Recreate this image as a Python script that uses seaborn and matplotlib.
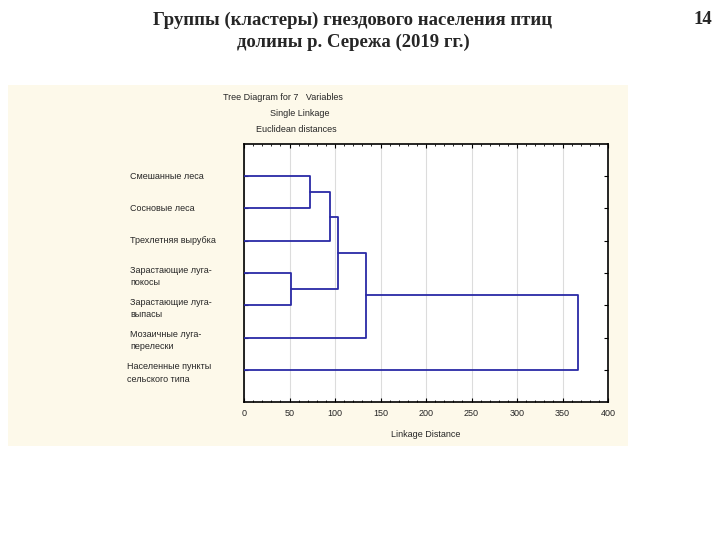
import matplotlib
matplotlib.use("Agg")
import matplotlib.pyplot as plt
import matplotlib.patches as mpatches
import matplotlib.transforms as mtransforms
from matplotlib.ticker import MultipleLocator
import numpy as np
import pandas as pd
import seaborn as sns

# ---- data ----
leaf_labels = [
    "Смешанные леса",
    "Сосновые леса",
    "Трехлетняя вырубка",
    "Зарастающие луга-\nпокосы",
    "Зарастающие луга-\nвыпасы",
    "Мозаичные луга-\nперелески",
    "Населенные пункты\nсельского типа",
]
# merges: (child_a, child_b, linkage distance); ids >= 7 refer to earlier merges
merge_a = [0, 3, 7, 9, 10, 11]
merge_b = [1, 4, 2, 8, 5, 6]
merge_h = [72.5, 52, 94.5, 103, 134, 367]
x_ticks = [0, 50, 100, 150, 200, 250, 300, 350, 400]

sns.set_theme(style="white")
plt.rcParams["font.family"] = ["Liberation Sans", "DejaVu Sans"]

fig = plt.figure(figsize=(7.2, 5.4), dpi=100)
fig.patch.set_facecolor("white")

# cream panel (background axes)
bg = fig.add_axes([8 / 720, 1 - 446 / 540, 620 / 720, 361 / 540], zorder=-5)
bg.set_facecolor("#fdf9ea")
bg.set_xticks([])
bg.set_yticks([])
for s in bg.spines.values():
    s.set_visible(False)

ax = fig.add_axes([244 / 720, 1 - 402 / 540, 364 / 720, 258 / 540], zorder=2)
ax.set_facecolor("white")

# build dendrogram segments
n = len(leaf_labels)
pos = {i: (0.0, float(i + 1)) for i in range(n)}
rows = []
for k, (a, b, h) in enumerate(zip(merge_a, merge_b, merge_h)):
    xa, ya = pos[a]
    xb, yb = pos[b]
    for (xx, yy) in [(xa, ya), (h, ya), (h, yb), (xb, yb)]:
        rows.append({"x": xx, "y": yy, "seg": k})
    pos[n + k] = (h, (ya + yb) / 2)
df = pd.DataFrame(rows)

sns.lineplot(data=df, x="x", y="y", units="seg", estimator=None, sort=False,
             color="#2a2aa6", linewidth=1.3, ax=ax, legend=False, zorder=3)

ax.set_xlim(0, 400)
ax.set_ylim(8, 0)
ax.set_xticks(x_ticks)
ax.set_xticklabels([str(t) for t in x_ticks], fontsize=6.5)
ax.xaxis.set_minor_locator(MultipleLocator(10))
ax.set_yticks(range(1, n + 1))
ax.set_yticklabels([])
ax.set_xlabel("Linkage Distance", fontsize=6.5, labelpad=9)
ax.set_ylabel("")
ax.grid(axis="x", color="#dcdcdc", linewidth=0.8)
ax.set_axisbelow(True)
for s in ax.spines.values():
    s.set_color("black")
    s.set_linewidth(1.2)
ax.tick_params(axis="both", which="both", direction="in", top=True, right=True,
               left=True, bottom=True, color="black")
ax.tick_params(axis="both", which="major", length=3, width=0.8, pad=5)
ax.tick_params(axis="x", which="minor", length=1.5, width=0.6)

# leaf labels
trans = mtransforms.blended_transform_factory(ax.transAxes, ax.transData)
for i, lab in enumerate(leaf_labels):
    multi = "\n" in lab
    xoff = -0.322 if i == n - 1 else -0.312
    ax.text(xoff, i + 1 + (0.1 if multi else 0), lab, transform=trans,
            ha="left", va="center", fontsize=6.5, linespacing=1.45)

# header texts
fig.text(283 / 720, 1 - 97 / 540, "Tree Diagram for 7   Variables", ha="center",
         va="center", fontsize=6.5)
fig.text(300 / 720, 1 - 113 / 540, "Single Linkage", ha="center", va="center",
         fontsize=6.5)
fig.text(296 / 720, 1 - 130 / 540, "Euclidean distances", ha="center",
         va="center", fontsize=6.5)

# slide title
fig.text(353 / 720, 1 - 20 / 540, "Группы (кластеры) гнездового населения птиц",
         ha="center", va="center", fontsize=13.5, fontweight="bold",
         family=["Liberation Serif", "DejaVu Serif"])
fig.text(353 / 720, 1 - 42 / 540, "долины р. Сережа (2019 гг.)",
         ha="center", va="center", fontsize=13.5, fontweight="bold",
         family=["Liberation Serif", "DejaVu Serif"])
fig.text(703 / 720, 1 - 19 / 540, "14", ha="center", va="center",
         fontsize=13.5, fontweight="bold",
         family=["Liberation Serif", "DejaVu Serif"])

fig.savefig("out.png", dpi=100)
